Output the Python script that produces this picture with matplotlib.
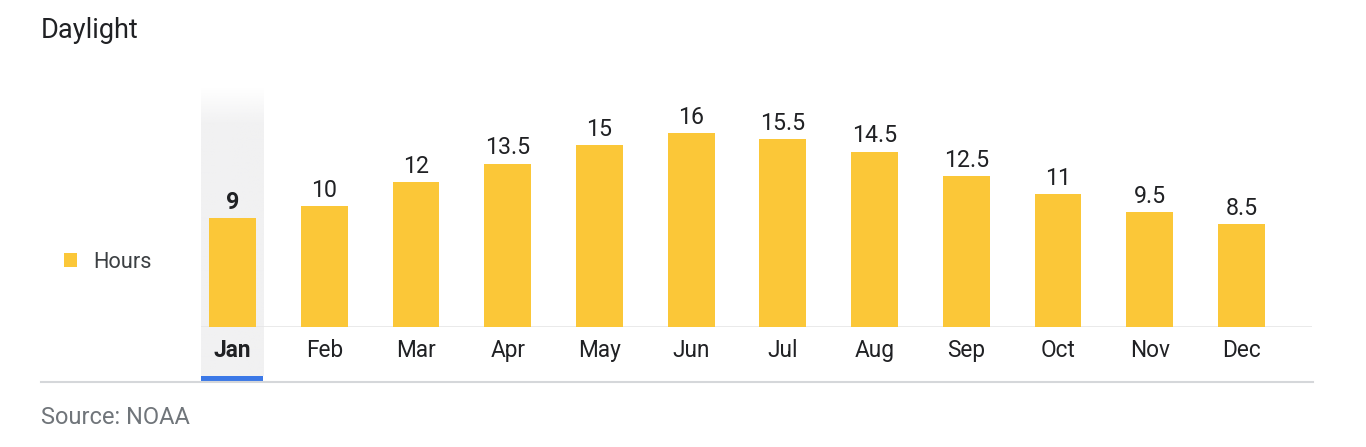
import matplotlib.pyplot as plt
import matplotlib.colors as mcolors
from matplotlib.lines import Line2D
import numpy as np

plt.rcParams['font.family'] = ['Roboto', 'DejaVu Sans']

months = ["Jan", "Feb", "Mar", "Apr", "May", "Jun", "Jul", "Aug", "Sep", "Oct", "Nov", "Dec"]
hours = [9, 10, 12, 13.5, 15, 16, 15.5, 14.5, 12.5, 11, 9.5, 8.5]
value_labels = ["9", "10", "12", "13.5", "15", "16", "15.5", "14.5", "12.5", "11", "9.5", "8.5"]
selected = 0  # highlighted month (Jan)

W, H = 1366, 447
fig = plt.figure(figsize=(W / 100, H / 100), dpi=100)
ax = fig.add_axes([201 / W, 1 - 327 / H, 1111 / W, 239 / H])
ax.patch.set_alpha(0)

bar_col = '#fbc738'
txt_col = '#202124'
x = np.arange(len(months))

# highlight column behind the selected month, fading in at the top
hl = mcolors.to_rgb('#f1f1f2')
n = 300
img = np.zeros((n, 1, 4))
img[:, 0, :3] = hl
fade = np.clip(np.linspace(0, 1, n) / 0.13, 0, 1)
img[:, 0, 3] = fade
ax.imshow(img, extent=(selected - 0.345, selected + 0.335, -4.05, 19.75),
          aspect='auto', origin='upper', clip_on=False, zorder=0,
          interpolation='bilinear')
# blue marker under the selected month
ax.bar(selected - 0.005, -0.42, bottom=-4.05, width=0.68, color='#3b78e7',
       clip_on=False, zorder=1)

bars = ax.bar(x, hours, width=0.51, color=bar_col, zorder=2, label='Hours')
ax.axhline(0, color='#e6e6e6', lw=1.2, zorder=1)

for i, (v, lab) in enumerate(zip(hours, value_labels)):
    ax.annotate(lab, (i, v), xytext=(0, 6.6), textcoords='offset points',
                ha='center', va='baseline', fontsize=16.7, color=txt_col,
                fontweight='bold' if i == selected else 'normal')
    ax.annotate(months[i], (i, 0), xytext=(0, -21.3), textcoords='offset points',
                ha='center', va='baseline', fontsize=16.3, color=txt_col,
                fontweight='bold' if i == selected else 'normal')

ax.set_xlim(-0.345, 11.77)
ax.set_ylim(0, 19.75)
ax.axis('off')

fig.text(41 / W, 1 - 38.5 / H, "Daylight", fontsize=19.5, color=txt_col,
         ha='left', va='baseline')
fig.text(41 / W, 1 - 424.5 / H, "Source: NOAA", fontsize=17, color='#70757a',
         ha='left', va='baseline')

fig.legend(handles=[bars], loc='center left', bbox_to_anchor=(64 / W, 1 - 262 / H),
           frameon=False, fontsize=15.7, handlelength=0.6, handleheight=0.6,
           handletextpad=0.75, borderpad=0, borderaxespad=0, labelcolor='#3c4043')

fig.add_artist(Line2D([41 / W, 1313 / W], [1 - 382 / H, 1 - 382 / H],
                      color='#d5d7da', lw=1.5, transform=fig.transFigure))

fig.savefig('out.png', dpi=100, facecolor='white')
